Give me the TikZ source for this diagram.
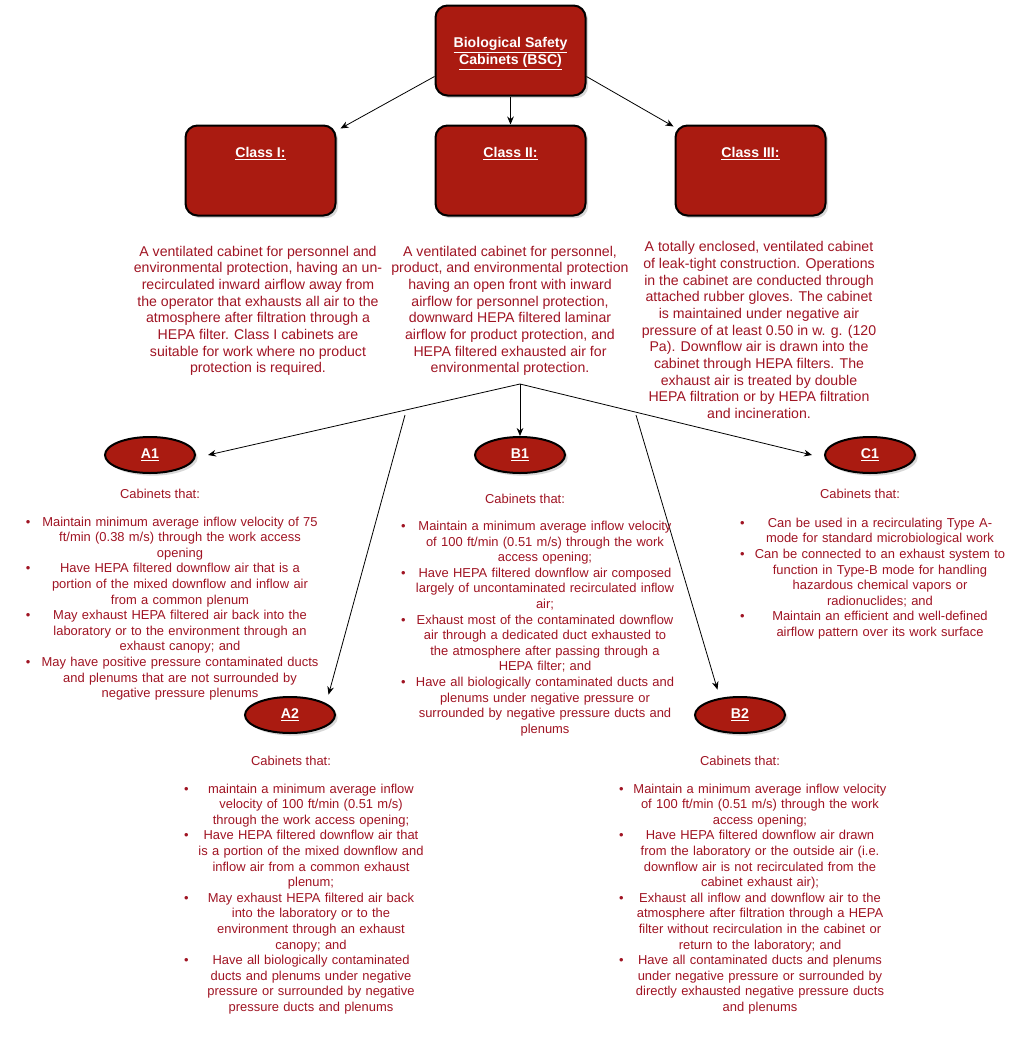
\documentclass[tikz,border=0pt]{standalone}
\usepackage{fontspec}
\setmainfont{Liberation Sans}
\usetikzlibrary{shapes.geometric,shadows,arrows.meta}
\definecolor{rossobox}{RGB}{170,27,17}
\definecolor{rossotesto}{RGB}{160,20,35}
\newlength{\bpos}
\newcommand{\voce}[1]{\setbox0=\vtop{\hsize=\linewidth\parindent=0pt\centering #1\par\global\dimen1=\prevdepth}\noindent\makebox[0pt][l]{\hspace*{\bpos}\textbullet}\box0\par\prevdepth=\dimen1\relax}
\tikzset{
  classe/.style={draw=black,line width=1.5pt,fill=rossobox,rounded corners=9pt,minimum width=112.5pt,minimum height=67.5pt,drop shadow={shadow xshift=2pt,shadow yshift=-2pt,opacity=0.3}},
  ovale/.style={ellipse,draw=black,line width=1.5pt,fill=rossobox,minimum width=67.5pt,minimum height=27pt,inner sep=0pt,drop shadow={shadow xshift=2pt,shadow yshift=-2pt,opacity=0.3}},
  titolo/.style={text=white,font=\fontsize{10.6}{12.75}\selectfont\bfseries,align=center},
  descr/.style={text=rossotesto,align=center,font=\fontsize{10.6}{12.5}\selectfont,inner sep=0pt},
  lista/.style={text=rossotesto,font=\fontsize{9.7}{11.7}\selectfont,inner sep=0pt},
  freccia/.style={-{Stealth[length=6pt,width=5pt]},line width=0.6pt}
}
\begin{document}
\begin{tikzpicture}[x=0.75pt,y=-0.75pt]
    \fill[white] (0,0) rectangle (1018,1039);
    \useasboundingbox (0,0) rectangle (1018,1039);

    %scatole in alto
    \node[classe] (bsc) at (510.5,50.5) {};
    \node[titolo] (bsct) at (510.5,54) {\underline{Biological Safety}\\\underline{Cabinets (BSC)}};
    \node[classe] (cl1) at (260.5,170.5) {};
    \node[titolo] (cl1t) at (260.5,154) {\underline{Class I:}};
    \node[classe] (cl2) at (510.5,170.5) {};
    \node[titolo] (cl2t) at (510.5,154) {\underline{Class II:}};
    \node[classe] (cl3) at (750.5,170.5) {};
    \node[titolo] (cl3t) at (750.5,154) {\underline{Class III:}};

    \draw[freccia] ([shift={(0,-20)}]bsc.south west) -- ([shift={(4,4)}]cl1.north east);
    \draw[freccia] (bsc.south) -- (cl2.north);
    \draw[freccia] ([shift={(0,-20)}]bsc.south east) -- ([shift={(-1,2)}]cl3.north west);

    %descrizioni
    \node[descr] (d1) at (258,311) {A ventilated cabinet for personnel and\\environmental protection, having an un-\\recirculated inward airflow away from\\the operator that exhausts all air to the\\atmosphere after filtration through a\\HEPA filter. Class I cabinets are\\suitable for work where no product\\protection is required.};
    \node[descr] (d2) at (510,311) {A ventilated cabinet for personnel,\\product, and environmental protection\\having an open front with inward\\airflow for personnel protection,\\downward HEPA filtered laminar\\airflow for product protection, and\\HEPA filtered exhausted air for\\environmental protection.};
    \node[descr] (d3) at (759,330) {A totally enclosed, ventilated cabinet\\of leak-tight construction. Operations\\in the cabinet are conducted through\\attached rubber gloves. The cabinet\\is maintained under negative air\\pressure of at least 0.50 in w. g. (120\\Pa). Downflow air is drawn into the\\cabinet through HEPA filters. The\\exhaust air is treated by double\\HEPA filtration or by HEPA filtration\\and incineration.};

    %ovali dei tipi
    \node[ovale] (a1) at (150,455) {};
    \node[titolo] (a1t) at (150,455) {\underline{A1}};
    \node[ovale] (b1) at (520,455) {};
    \node[titolo] (b1t) at (520,455) {\underline{B1}};
    \node[ovale] (c1) at (870,455) {};
    \node[titolo] (c1t) at (870,455) {\underline{C1}};
    \node[ovale] (a2) at (290,715) {};
    \node[titolo] (a2t) at (290,715) {\underline{A2}};
    \node[ovale] (b2) at (740,715) {};
    \node[titolo] (b2t) at (740,715) {\underline{B2}};

    \coordinate (p) at (520,384);
    \coordinate (q1) at (405,415);
    \coordinate (q2) at (636,415);
    \draw[freccia] (p) -- ([xshift=9pt]a1.east);
    \draw[freccia] (p) -- (b1.north);
    \draw[freccia] (p) -- ([xshift=-9pt]c1.west);
    \draw[freccia] (q1) -- ([shift={(6,-7)}]a2.north east);
    \draw[freccia] (q2) -- ([shift={(10,-12)}]b2.north west);

    %elenchi
    \node[lista] (ca1) at (160,494) {Cabinets that:};
    \node[lista,text width=225pt] (la1) at (180,608.5) {\setlength{\bpos}{-3pt}%
      \voce{Maintain minimum average inflow velocity of 75\\ft/min (0.38 m/s) through the work access\\opening}%
      \voce{Have HEPA filtered downflow air that is a\\portion of the mixed downflow and inflow air\\from a common plenum}%
      \voce{May exhaust HEPA filtered air back into the\\laboratory or to the environment through an\\exhaust canopy; and}%
      \voce{May have positive pressure contaminated ducts\\and plenums that are not surrounded by\\negative pressure plenums}};

    \node[lista] (cb1) at (525,499) {Cabinets that:};
    \node[lista,text width=217.5pt] (lb1) at (545,628.5) {\setlength{\bpos}{0.75pt}%
      \voce{Maintain a minimum average inflow velocity\\of 100 ft/min (0.51 m/s) through the work\\access opening;}%
      \voce{Have HEPA filtered downflow air composed\\largely of uncontaminated recirculated inflow\\air;}%
      \voce{Exhaust most of the contaminated downflow\\air through a dedicated duct exhausted to\\the atmosphere after passing through a\\HEPA filter; and}%
      \voce{Have all biologically contaminated ducts and\\plenums under negative pressure or\\surrounded by negative pressure ducts and\\plenums}};

    \node[lista] (cc1) at (860,494) {Cabinets that:};
    \node[lista,text width=202.5pt] (lc1) at (880,578.5) {\setlength{\bpos}{-3.75pt}%
      \voce{Can be used in a recirculating Type A-\\mode for standard microbiological work}%
      \voce{Can be connected to an exhaust system to\\function in Type-B mode for handling\\hazardous chemical vapors or\\radionuclides; and}%
      \voce{Maintain an efficient and well-defined\\airflow pattern over its work surface}};

    \node[lista] (ca2) at (291,761) {Cabinets that:};
    \node[lista,text width=187.5pt] (la2) at (311,899) {\setlength{\bpos}{-1.5pt}%
      \voce{maintain a minimum average inflow\\velocity of 100 ft/min (0.51 m/s)\\through the work access opening;}%
      \voce{Have HEPA filtered downflow air that\\is a portion of the mixed downflow and\\inflow air from a common exhaust\\plenum;}%
      \voce{May exhaust HEPA filtered air back\\into the laboratory or to the\\environment through an exhaust\\canopy; and}%
      \voce{Have all biologically contaminated\\ducts and plenums under negative\\pressure or surrounded by negative\\pressure ducts and plenums}};

    \node[lista] (cb2) at (740,761) {Cabinets that:};
    \node[lista,text width=202.5pt] (lb2) at (760,899) {\setlength{\bpos}{-4.5pt}%
      \voce{Maintain a minimum average inflow velocity\\of 100 ft/min (0.51 m/s) through the work\\access opening;}%
      \voce{Have HEPA filtered downflow air drawn\\from the laboratory or the outside air (i.e.\\downflow air is not recirculated from the\\cabinet exhaust air);}%
      \voce{Exhaust all inflow and downflow air to the\\atmosphere after filtration through a HEPA\\filter without recirculation in the cabinet or\\return to the laboratory; and}%
      \voce{Have all contaminated ducts and plenums\\under negative pressure or surrounded by\\directly exhausted negative pressure ducts\\and plenums}};
\end{tikzpicture}
\end{document}
